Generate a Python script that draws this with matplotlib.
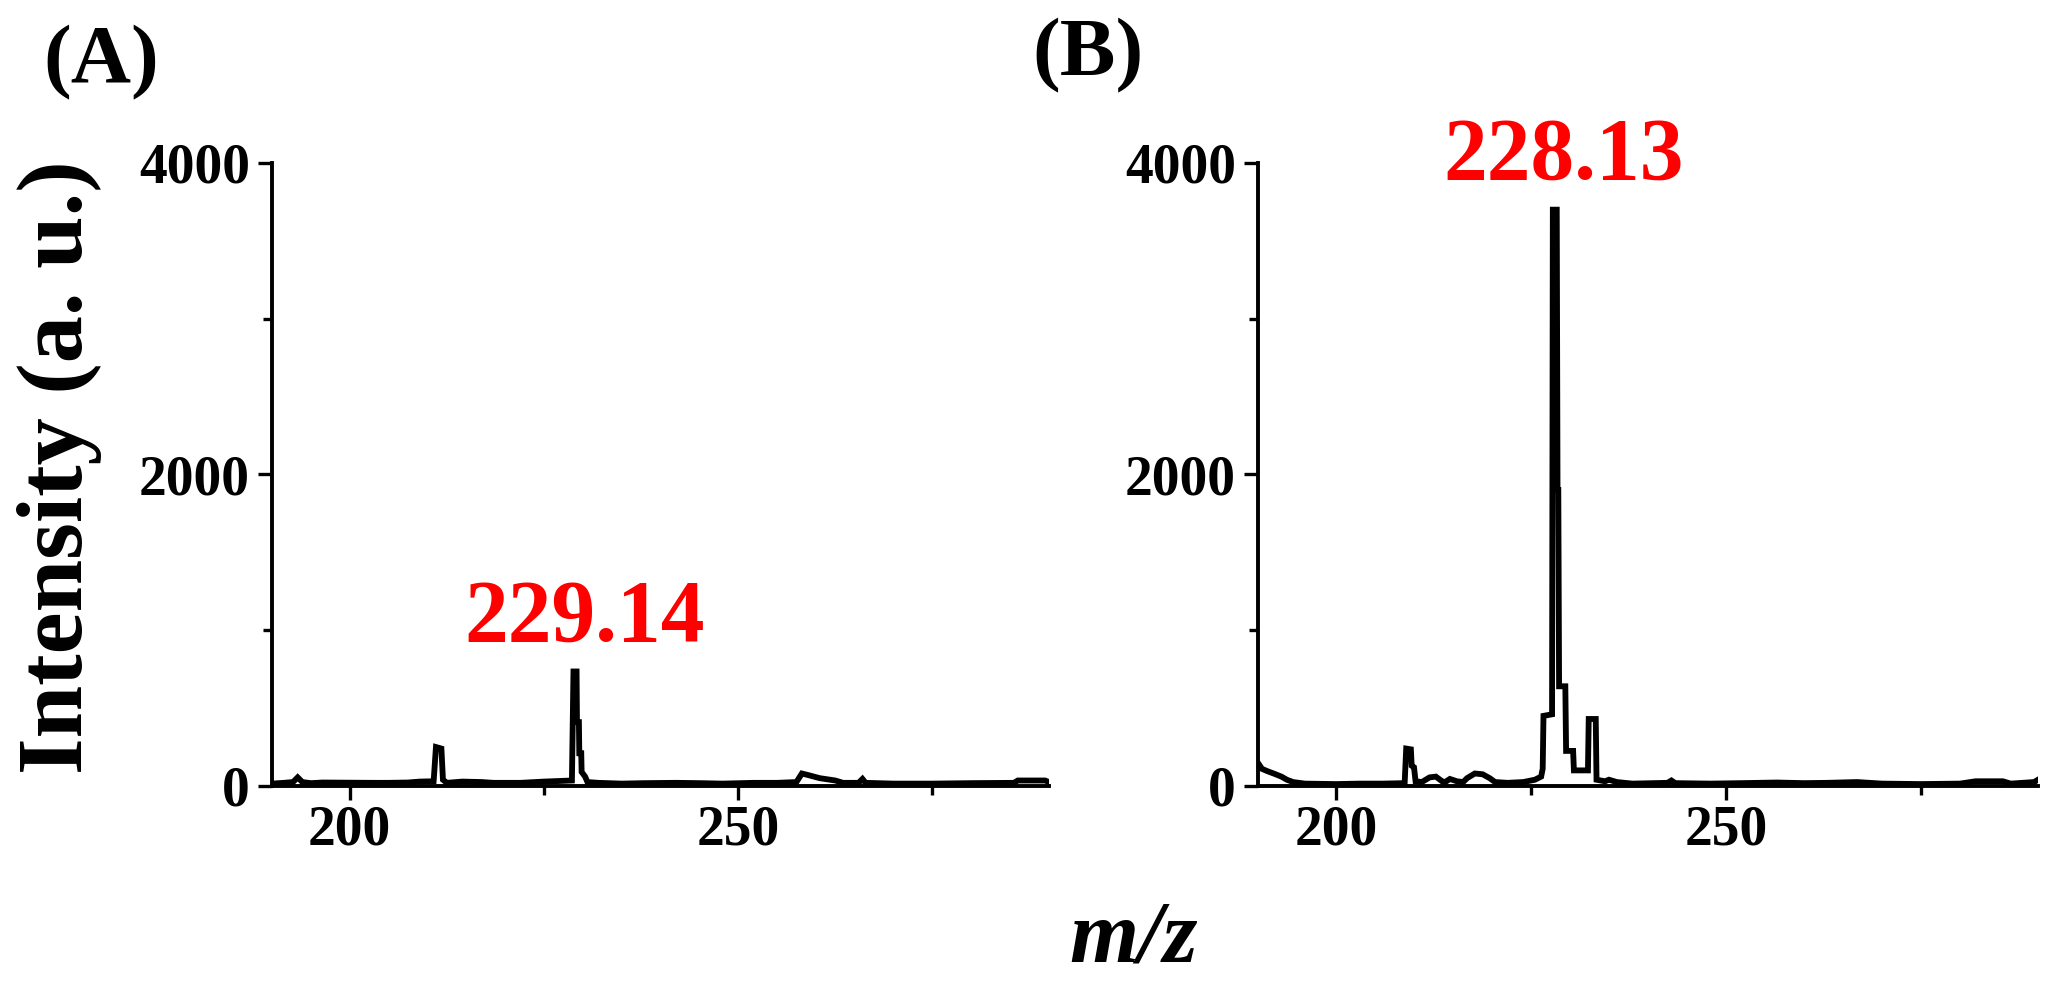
import matplotlib
matplotlib.use("Agg")
import matplotlib.pyplot as plt
from matplotlib.ticker import MultipleLocator

plt.rcParams['font.family'] = ['Liberation Serif', 'DejaVu Serif']
plt.rcParams['font.weight'] = 'bold'

# spectrum (A): m/z and intensity
mz_a = [190.0, 191.5, 192.7, 193.3, 193.9, 195.0, 196.5, 203.0, 205.0, 207.5,
        209.0, 210.8, 211.1, 211.8, 212.0, 212.5, 214.5, 217.0, 218.5, 222.0,
        225.0, 228.6, 228.8, 229.2, 229.25, 229.5, 229.55, 229.8, 229.85, 230.3,
        230.6, 232.0, 235.0, 238.0, 242.0, 245.0, 248.0, 252.0, 255.0, 257.5,
        258.2, 259.0, 260.5, 262.5, 263.5, 265.5, 266.0, 266.4, 270.0, 275.0,
        280.0, 285.5, 286.0, 289.5, 290.0]
int_a = [15, 20, 25, 55, 25, 18, 22, 20, 20, 22,
         28, 30, 250, 240, 40, 20, 28, 25, 20, 20,
         28, 35, 735, 735, 410, 410, 210, 210, 90, 60,
         25, 20, 15, 18, 20, 18, 15, 20, 20, 25,
         80, 70, 50, 35, 20, 20, 45, 20, 15, 15,
         18, 20, 35, 35, 25]

# spectrum (B)
mz_b = [190.1, 190.5, 191.2, 192.0, 193.0, 193.7, 194.5, 196.0, 200.0, 203.0,
        206.0, 208.8, 209.0, 209.6, 209.7, 210.0, 210.2, 211.0, 212.0, 212.8,
        213.6, 214.0, 214.6, 215.5, 216.3, 216.8, 217.8, 218.8, 219.7, 220.4,
        222.0, 224.0, 225.5, 226.3, 226.5, 226.6, 227.7, 227.8, 228.3, 228.4,
        228.5, 228.6, 229.4, 229.5, 230.4, 230.5, 232.3, 232.4, 233.3, 233.4,
        234.5, 235.0, 236.0, 238.0, 242.5, 243.0, 243.5, 248.0, 252.0, 256.5,
        260.0, 263.0, 266.8, 270.0, 275.0, 280.0, 282.0, 285.5, 286.5, 289.5,
        290.0]
int_b = [140, 110, 95, 80, 60, 40, 25, 15, 12, 15,
         15, 18, 240, 235, 130, 120, 30, 25, 55, 60,
         30, 25, 45, 30, 25, 50, 80, 75, 50, 25,
         20, 25, 40, 60, 110, 450, 460, 3700, 3700, 1900,
         1900, 640, 640, 225, 225, 100, 100, 430, 430, 40,
         30, 40, 25, 15, 20, 35, 18, 15, 18, 22,
         18, 20, 25, 15, 12, 15, 30, 30, 15, 25,
         40]

peak_labels = ["229.14", "228.13"]
peak_pos = [(230.2, 935), (229.2, 3900)]
panel_tags = ["(A)", "(B)"]

fig = plt.figure(figsize=(20.64, 9.93), dpi=100)
axA = fig.add_axes([0.1318, 0.2085, 0.3764, 0.6274])
axB = fig.add_axes([0.6095, 0.2085, 0.3779, 0.6274])

for ax, mz, inten in [(axA, mz_a, int_a), (axB, mz_b, int_b)]:
    ax.plot(mz, inten, color='black', linewidth=4.2, solid_joinstyle='miter')
    ax.set_xlim(190, 290)
    ax.set_ylim(0, 4000)
    ax.xaxis.set_major_locator(MultipleLocator(50))
    ax.xaxis.set_minor_locator(MultipleLocator(25))
    ax.yaxis.set_major_locator(MultipleLocator(2000))
    ax.yaxis.set_minor_locator(MultipleLocator(1000))
    ax.spines['top'].set_visible(False)
    ax.spines['right'].set_visible(False)
    ax.spines['left'].set_linewidth(2.8)
    ax.spines['bottom'].set_linewidth(2.8)
    ax.tick_params(which='major', direction='out', length=10, width=2.4,
                   labelsize=40, pad=6)
    ax.tick_params(axis='x', which='major', pad=3)
    ax.tick_params(which='minor', direction='out', length=6.5, width=2.4)
    for lab in ax.get_xticklabels() + ax.get_yticklabels():
        lab.set_fontweight('bold')

for ax, txt, (x, y) in zip([axA, axB], peak_labels, peak_pos):
    ax.text(x, y, txt, color='red', fontsize=63, fontweight='bold',
            ha='center', va='baseline', clip_on=False)

fig.text(0.049, 0.937, panel_tags[0], fontsize=60, fontweight='bold',
         ha='center', va='center')
fig.text(0.527, 0.944, panel_tags[1], fontsize=60, fontweight='bold',
         ha='center', va='center')

fig.text(0.029, 0.53, 'Intensity (a. u.)', fontsize=68, fontweight='bold',
         rotation=90, ha='center', va='center')
fig.text(0.549, 0.053, 'm/z', fontsize=64, fontweight='bold',
         fontstyle='italic', ha='center', va='center')

fig.savefig('out.png', dpi=100)
